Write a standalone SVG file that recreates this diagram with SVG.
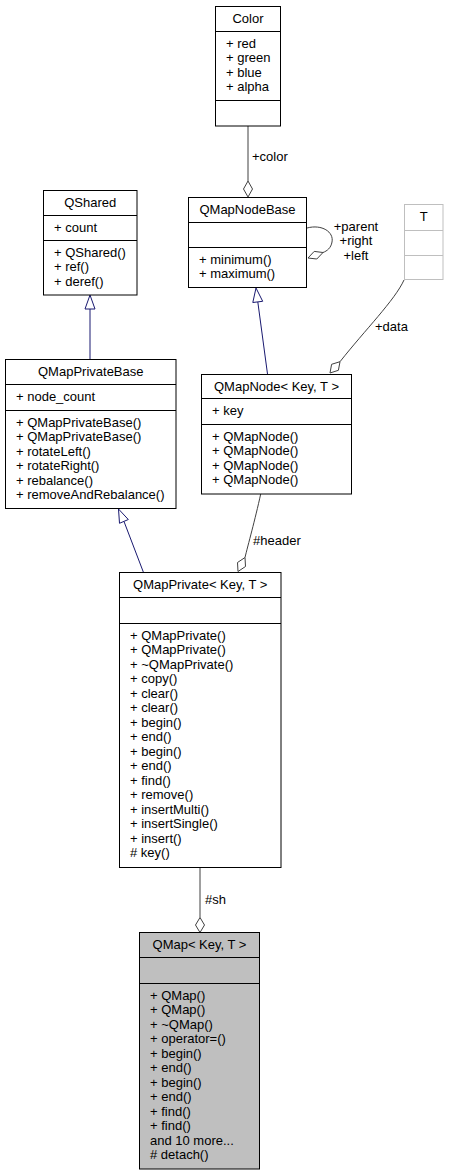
<svg xmlns="http://www.w3.org/2000/svg" width="449" height="1176" viewBox="0 0 449 1176">
<style>
text{font-family:"Liberation Sans",Arial,Helvetica,sans-serif;font-size:13px;fill:#000}
.c{text-anchor:middle}
.box{fill:#fff;stroke:#000;stroke-width:1}
.gray{fill:#bfbfbf}
.tbox{fill:#fff;stroke:#bfbfbf;stroke-width:1}
.sep{stroke:#000;stroke-width:1}
.tsep{stroke:#bfbfbf;stroke-width:1}
.inh{stroke:#191970;fill:none;stroke-width:1}
.use{stroke:#404040;fill:none;stroke-width:1}
.tri{fill:#fff;stroke:#191970;stroke-width:1}
.dia{fill:#fff;stroke:#404040;stroke-width:1}
</style>
<rect width="449" height="1176" fill="#fff"/>
<g id="connectors">
  <path class="use" d="M248,126 L248,181"/>
  <polygon class="dia" points="248,181 252.5,189 248,197 243.5,189"/>
  <text x="252" y="161">+color</text>
  <path class="use" d="M307,228 C322,224 334,232 332,242 C331,248 327,251 323,252.5"/>
  <polygon class="dia" points="308,258 316.8,259 323,252.5 314.2,251.4"/>
  <text class="c" x="356" y="230.5">+parent</text>
  <text class="c" x="356" y="245">+right</text>
  <text class="c" x="356" y="259.5">+left</text>
  <path class="use" d="M404,280 C395,300 365,330 340,361.7"/>
  <polygon class="dia" points="330,373 338.4,370.3 340,361.7 331.6,364.3"/>
  <text x="375" y="331">+data</text>
  <path class="inh" d="M267.5,374 L257.8,301.9"/>
  <polygon class="tri" points="256,288 262.7,301.3 252.8,302.5"/>
  <path class="inh" d="M90,359.5 L90,309"/>
  <polygon class="tri" points="90,295 95,309 85,309"/>
  <path class="inh" d="M143.5,572.5 L124,521.5"/>
  <polygon class="tri" points="118.5,509 128.3,519.5 119.5,523.3"/>
  <path class="use" d="M260.7,494 C255,520 248,545 245,557.5"/>
  <polygon class="dia" points="245,557.5 245.5,566.5 238,571.5 237.5,562.5"/>
  <text x="253" y="545">#header</text>
  <path class="use" d="M200,867.5 L200,917.5"/>
  <polygon class="dia" points="200,917.5 204.5,925 200,932.5 195.5,925"/>
  <text x="205" y="904">#sh</text>
</g>
<g id="Color">
  <rect class="box" x="215.5" y="6.5" width="65" height="119.5"/>
  <line class="sep" x1="215.5" y1="31.5" x2="280.5" y2="31.5"/>
  <line class="sep" x1="215.5" y1="100.5" x2="280.5" y2="100.5"/>
  <text class="c" x="248" y="22.5">Color</text>
  <text x="226" y="47.5">+ red</text>
  <text x="226" y="62">+ green</text>
  <text x="226" y="76.5">+ blue</text>
  <text x="226" y="91">+ alpha</text>
</g>
<g id="QShared">
  <rect class="box" x="43.5" y="190.5" width="93.5" height="104.5"/>
  <line class="sep" x1="43.5" y1="215.5" x2="137" y2="215.5"/>
  <line class="sep" x1="43.5" y1="240.5" x2="137" y2="240.5"/>
  <text class="c" x="90.25" y="206.5">QShared</text>
  <text x="54" y="231.5">+ count</text>
  <text x="54" y="256.5">+ QShared()</text>
  <text x="54" y="271">+ ref()</text>
  <text x="54" y="285.5">+ deref()</text>
</g>
<g id="QMapNodeBase">
  <rect class="box" x="188.5" y="197.5" width="118" height="90"/>
  <line class="sep" x1="188.5" y1="222.5" x2="306.5" y2="222.5"/>
  <line class="sep" x1="188.5" y1="247.5" x2="306.5" y2="247.5"/>
  <text class="c" x="247.5" y="213.5">QMapNodeBase</text>
  <text x="199" y="263.5">+ minimum()</text>
  <text x="199" y="278">+ maximum()</text>
</g>
<g id="T">
  <rect class="tbox" x="404.5" y="204.5" width="38.5" height="75"/>
  <line class="tsep" x1="404.5" y1="230.5" x2="443" y2="230.5"/>
  <line class="tsep" x1="404.5" y1="255.5" x2="443" y2="255.5"/>
  <text class="c" x="423.75" y="220.5">T</text>
</g>
<g id="QMapPrivateBase">
  <rect class="box" x="5.5" y="359.5" width="170.5" height="149"/>
  <line class="sep" x1="5.5" y1="384.5" x2="176" y2="384.5"/>
  <line class="sep" x1="5.5" y1="410.5" x2="176" y2="410.5"/>
  <text class="c" x="90.75" y="375.5">QMapPrivateBase</text>
  <text x="16" y="400.5">+ node_count</text>
  <text x="16" y="426.5">+ QMapPrivateBase()</text>
  <text x="16" y="441">+ QMapPrivateBase()</text>
  <text x="16" y="455.5">+ rotateLeft()</text>
  <text x="16" y="470">+ rotateRight()</text>
  <text x="16" y="484.5">+ rebalance()</text>
  <text x="16" y="499">+ removeAndRebalance()</text>
</g>
<g id="QMapNode">
  <rect class="box" x="201.5" y="374.5" width="150" height="119.5"/>
  <line class="sep" x1="201.5" y1="398.5" x2="351.5" y2="398.5"/>
  <line class="sep" x1="201.5" y1="424.5" x2="351.5" y2="424.5"/>
  <text class="c" x="276.5" y="390.5">QMapNode&lt; Key, T &gt;</text>
  <text x="212" y="414.5">+ key</text>
  <text x="212" y="440.5">+ QMapNode()</text>
  <text x="212" y="455">+ QMapNode()</text>
  <text x="212" y="469.5">+ QMapNode()</text>
  <text x="212" y="484">+ QMapNode()</text>
</g>
<g id="QMapPrivate">
  <rect class="box" x="119.5" y="572.5" width="161.5" height="295"/>
  <line class="sep" x1="119.5" y1="597.5" x2="281" y2="597.5"/>
  <line class="sep" x1="119.5" y1="623.5" x2="281" y2="623.5"/>
  <text class="c" x="200.25" y="588.5">QMapPrivate&lt; Key, T &gt;</text>
  <text x="130" y="639.5">+ QMapPrivate()</text>
  <text x="130" y="654">+ QMapPrivate()</text>
  <text x="130" y="668.5">+ ~QMapPrivate()</text>
  <text x="130" y="683">+ copy()</text>
  <text x="130" y="697.5">+ clear()</text>
  <text x="130" y="712">+ clear()</text>
  <text x="130" y="726.5">+ begin()</text>
  <text x="130" y="741">+ end()</text>
  <text x="130" y="755.5">+ begin()</text>
  <text x="130" y="770">+ end()</text>
  <text x="130" y="784.5">+ find()</text>
  <text x="130" y="799">+ remove()</text>
  <text x="130" y="813.5">+ insertMulti()</text>
  <text x="130" y="828">+ insertSingle()</text>
  <text x="130" y="842.5">+ insert()</text>
  <text x="130" y="857"># key()</text>
</g>
<g id="QMap">
  <rect class="box gray" x="139.5" y="932.5" width="120" height="236.5"/>
  <line class="sep" x1="139.5" y1="957.5" x2="259.5" y2="957.5"/>
  <line class="sep" x1="139.5" y1="983.5" x2="259.5" y2="983.5"/>
  <text class="c" x="199.5" y="948.5">QMap&lt; Key, T &gt;</text>
  <text x="150" y="999.5">+ QMap()</text>
  <text x="150" y="1014">+ QMap()</text>
  <text x="150" y="1028.5">+ ~QMap()</text>
  <text x="150" y="1043">+ operator=()</text>
  <text x="150" y="1057.5">+ begin()</text>
  <text x="150" y="1072">+ end()</text>
  <text x="150" y="1086.5">+ begin()</text>
  <text x="150" y="1101">+ end()</text>
  <text x="150" y="1115.5">+ find()</text>
  <text x="150" y="1130">+ find()</text>
  <text x="150" y="1144.5">and 10 more...</text>
  <text x="150" y="1159"># detach()</text>
</g>
</svg>
